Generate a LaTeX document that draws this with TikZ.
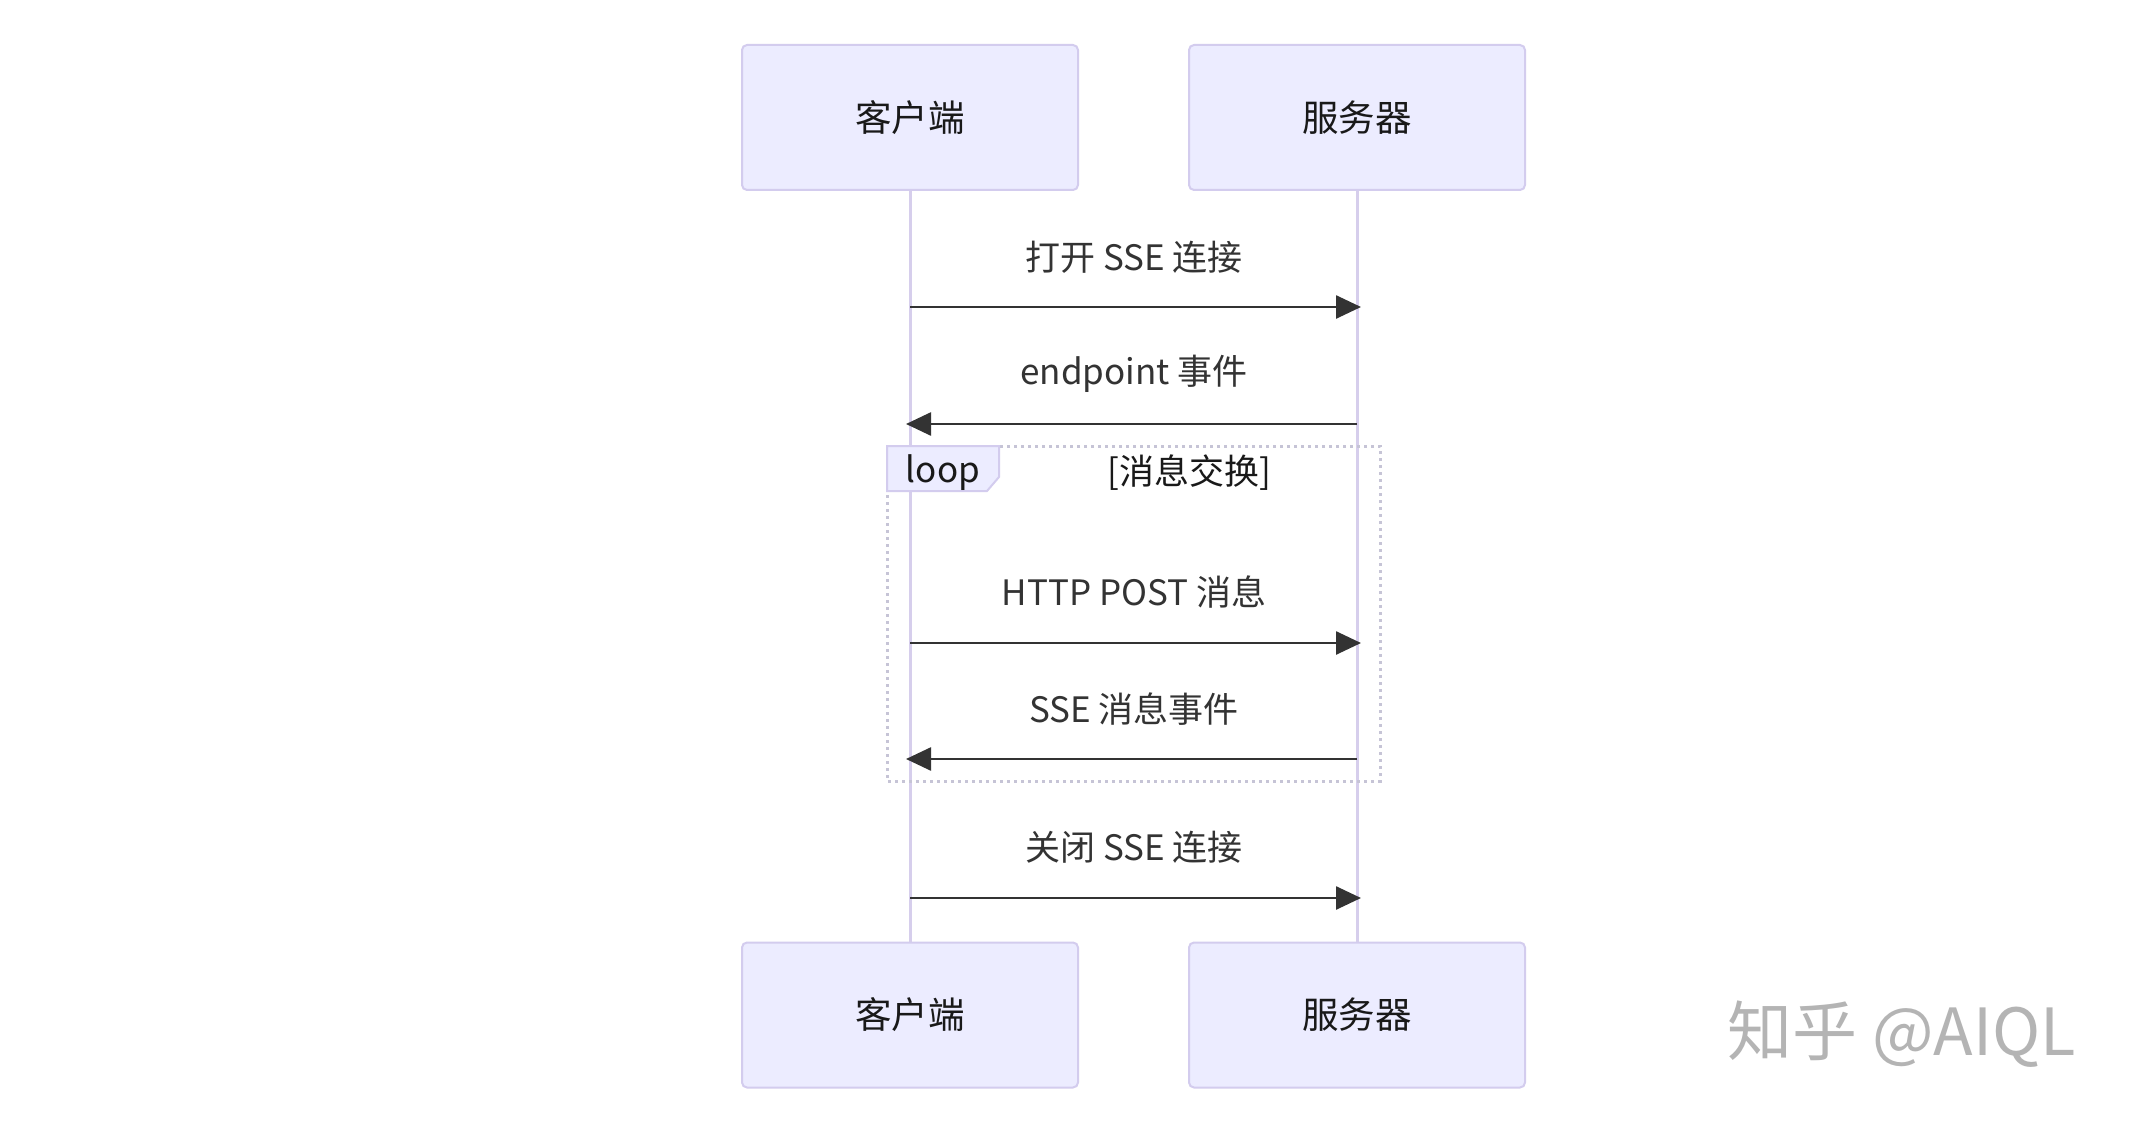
\documentclass[tikz,border=0pt]{standalone}
\usepackage{fontspec}
\setmainfont{Noto Sans CJK SC}
\usetikzlibrary{arrows.meta}
\definecolor{actfill}{HTML}{ECECFF}
\definecolor{actline}{HTML}{D3CCEE}
\definecolor{lifeline}{HTML}{D6CEEC}
\definecolor{msg}{HTML}{333333}
\definecolor{loopline}{HTML}{C6C4D6}
\definecolor{wm}{HTML}{B4B4B4}
\tikzset{
  actor/.style={draw=actline, fill=actfill, line width=2pt, rounded corners=5pt,
    minimum width=336pt, minimum height=145pt, inner sep=0pt,
    font=\fontsize{36.5}{42}\selectfont, text=black!90},
  life/.style={draw=lifeline, line width=3pt},
  msgline/.style={draw=msg, line width=2.6pt, -{Triangle[length=25pt,width=23pt]}, shorten >=-4pt},
  msglabel/.style={font=\fontsize{35}{40}\selectfont, text=msg, inner sep=0pt},
  loopbox/.style={draw=loopline, line width=3pt, dash pattern=on 3pt off 4pt},
}
\begin{document}
\begin{tikzpicture}[x=1pt,y=-1pt]
\useasboundingbox (0,0) rectangle (2129,1126);
\fill[white] (0,0) rectangle (2129,1126);
% actors
\node[actor] (c1) at (910,117.5) {客户端};
\node[actor] (s1) at (1357,117.5) {服务器};
\node[actor] (c2) at (910,1015) {客户端};
\node[actor] (s2) at (1357,1015) {服务器};
% lifelines
\draw[life] (c1.south) -- (c2.north);
\draw[life] (s1.south) -- (s2.north);
% loop frame
\draw[loopbox] (887,446) rectangle (1380,781);
\path (887,446) coordinate (lp1) (999,446) coordinate (lp2) (999,477) coordinate (lp3)
      (987,491) coordinate (lp4) (887,491) coordinate (lp5);
\draw[draw=actline, fill=actfill, line width=2pt] (lp1) -- (lp2) -- (lp3) -- (lp4) -- (lp5) -- cycle;
\node[msglabel, text=black!90] (looplbl) at (943,473) {loop};
\node[msglabel, text=black!90] (loopcond) at (1189,473) {[消息交换]};
% message coordinates
\coordinate (c-m1) at (910,307);  \coordinate (s-m1) at (1357,307);
\coordinate (c-m2) at (910,424);  \coordinate (s-m2) at (1357,424);
\coordinate (c-m3) at (910,643);  \coordinate (s-m3) at (1357,643);
\coordinate (c-m4) at (910,759);  \coordinate (s-m4) at (1357,759);
\coordinate (c-m5) at (910,898);  \coordinate (s-m5) at (1357,898);
% messages
\draw[msgline] (c-m1) -- (s-m1);
\node[msglabel] (l1) at (1134,257) {打开 SSE 连接};
\draw[msgline] (s-m2) -- (c-m2);
\node[msglabel] (l2) at (1134,374) {endpoint 事件};
\draw[msgline] (c-m3) -- (s-m3);
\node[msglabel] (l3) at (1134,592) {HTTP POST 消息};
\draw[msgline] (s-m4) -- (c-m4);
\node[msglabel] (l4) at (1134,709) {SSE 消息事件};
\draw[msgline] (c-m5) -- (s-m5);
\node[msglabel] (l5) at (1134,847) {关闭 SSE 连接};
% watermark
\node[font=\fontsize{65}{72}\selectfont, text=wm, inner sep=0pt] (wmk) at (1902,1034) {知乎 @AIQL};
\end{tikzpicture}
\end{document}
